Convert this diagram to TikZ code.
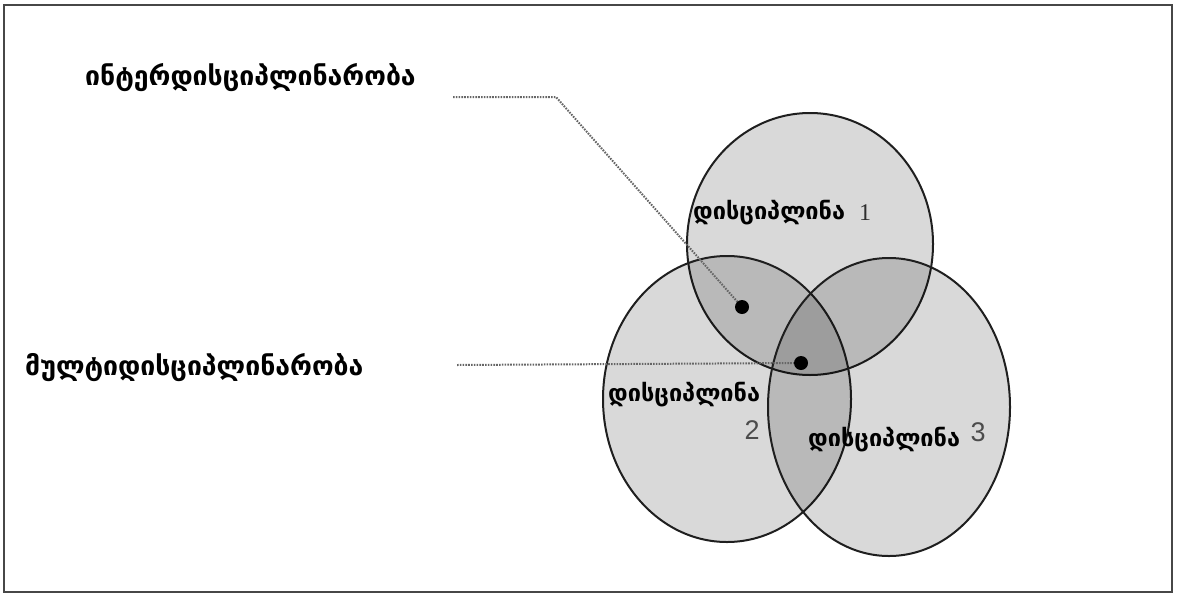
\documentclass[tikz,border=0pt]{standalone}
\usepackage{fontspec}
\setmainfont{DejaVu Sans}
\newfontfamily\geo{DejaVu Sans}
\newfontfamily\numserif{Liberation Serif}
\newfontfamily\numsans{Liberation Sans}
\usetikzlibrary{shapes.geometric}
\begin{document}
\begin{tikzpicture}[x=1pt,y=-1pt,
  venn/.style={ellipse,draw=black!88,line width=2pt,fill=black,fill opacity=0.15,text opacity=1,inner sep=0pt},
  bigtxt/.style={anchor=west,inner sep=0pt,font=\geo\bfseries\fontsize{26.6}{30}\selectfont},
  smalltxt/.style={anchor=west,inner sep=0pt,font=\geo\bfseries\fontsize{23.5}{26}\selectfont},
  dotline/.style={line width=2pt,black!60,dash pattern=on 1.6pt off 1.2pt},
  spot/.style={circle,fill=black,inner sep=0pt,minimum size=14pt},
  numtxt/.style={anchor=center,inner sep=0pt,font=\numsans\fontsize{27}{30}\selectfont,text=black!70}]
\useasboundingbox (0,0) rectangle (1177,597);
\draw[line width=2.6pt,black!72] (4,5) rectangle (1172,592);
\node[venn,minimum width=246pt,minimum height=262pt] (c1) at (810,244) {};
\node[venn,minimum width=248pt,minimum height=286pt] (c2) at (727,399) {};
\node[venn,minimum width=242pt,minimum height=298pt] (c3) at (889,407) {};
\coordinate (p1) at (742,307);
\coordinate (p2) at (801,363);
\coordinate (l1a) at (453,97);
\coordinate (l1b) at (556,97);
\coordinate (l2a) at (457,365);
\draw[dotline] (l1a) -- (l1b) -- (p1);
\draw[dotline] (l2a) -- (p2);
\node[spot] (d1) at (p1) {};
\node[spot] (d2) at (p2) {};
\node[bigtxt] (t1) at (85,78) {ინტერდისციპლინარობა};
\node[bigtxt] (t2) at (25,368) {მულტიდისციპლინარობა};
\node[smalltxt] (s1) at (693,213) {დისციპლინა};
\node[anchor=center,inner sep=0pt,font=\numserif\fontsize{24}{26}\selectfont,text=black!82] (n1) at (865,213) {1};
\node[smalltxt] (s2) at (608,395) {დისციპლინა};
\node[numtxt] (n2) at (752,430) {2};
\node[smalltxt] (s3) at (808,440) {დისციპლინა};
\node[numtxt] (n3) at (978,432) {3};
\end{tikzpicture}
\end{document}
